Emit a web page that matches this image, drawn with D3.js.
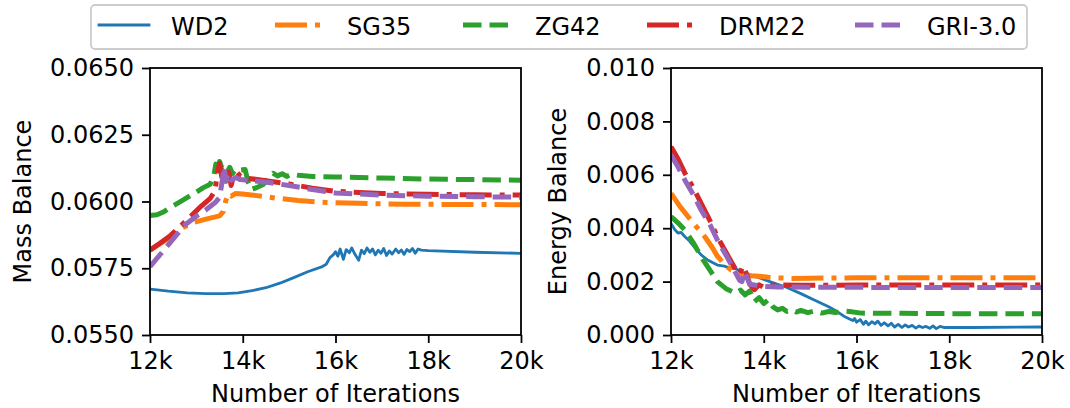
<!DOCTYPE html>
<html>
<head>
<meta charset="utf-8">
<script src="https://cdn.jsdelivr.net/npm/d3@7"></script>
<style>
  html, body { margin: 0; padding: 0; background: #fff; }
  svg { display: block; font-family: "DejaVu Sans", sans-serif; }
</style>
</head>
<body>
<svg id="chart" width="1070" height="408"></svg>
<script>
// ---------------- DATA ----------------
const seriesNames = ["WD2", "SG35", "ZG42", "DRM22", "GRI-3.0"];
const xTicks = [12000, 14000, 16000, 18000, 20000];
const massTicks = [0.0550, 0.0575, 0.0600, 0.0625, 0.0650];
const energyTicks = [0.000, 0.002, 0.004, 0.006, 0.008, 0.010];
const xLabel = "Number of Iterations";
const massLabel = "Mass Balance";
const energyLabel = "Energy Balance";

// Mass balance (left panel): [iteration, value]
const massWD2 = [[12000,0.05672],[12400,0.05664],[12800,0.05658],[13200,0.05655],[13600,0.05655],[13900,0.05658],[14200,0.05666],[14500,0.05677],[14800,0.05694],[15100,0.05715],[15400,0.05737],[15700,0.05755],[15800,0.05765],[15880,0.05790],[15950,0.05800],[16000,0.05812],[16050,0.05795],[16100,0.05822],[16170,0.05783],[16230,0.05820],[16300,0.05808],[16350,0.05826],[16420,0.05802],[16500,0.05780],[16560,0.05818],[16620,0.05805],[16680,0.05826],[16740,0.05810],[16800,0.05822],[16860,0.05800],[16920,0.05818],[16980,0.05806],[17040,0.05824],[17100,0.05798],[17160,0.05815],[17220,0.05803],[17300,0.05822],[17360,0.05808],[17420,0.05818],[17480,0.05802],[17540,0.05820],[17600,0.05812],[17660,0.05824],[17720,0.05806],[17780,0.05822],[17850,0.05818],[18000,0.05816],[19000,0.05810],[20000,0.05806]];
const massSG35 = [[12000,0.05818],[12200,0.05840],[12400,0.05862],[12650,0.05898],[12950,0.05922],[13250,0.05936],[13500,0.05946],[13580,0.05962],[13630,0.06000],[13680,0.06028],[13750,0.06020],[13850,0.06030],[14000,0.06028],[14300,0.06022],[14700,0.06013],[15200,0.06004],[15700,0.05997],[16500,0.05993],[17500,0.05990],[18500,0.05989],[20000,0.05988]];
const massZG42 = [[12000,0.05948],[12150,0.05950],[12300,0.05962],[12500,0.05984],[12700,0.06004],[12950,0.06030],[13150,0.06052],[13300,0.06065],[13380,0.06100],[13420,0.06140],[13460,0.06095],[13500,0.06150],[13550,0.06125],[13600,0.06138],[13660,0.06110],[13720,0.06128],[13780,0.06105],[13850,0.06122],[13950,0.06118],[14050,0.06120],[14120,0.06070],[14180,0.06045],[14300,0.06052],[14450,0.06065],[14550,0.06090],[14650,0.06106],[14750,0.06096],[14850,0.06104],[14950,0.06094],[15050,0.06102],[15200,0.06098],[15500,0.06094],[16000,0.06092],[17000,0.06088],[18000,0.06084],[19000,0.06082],[20000,0.06080]];
const massDRM22 = [[12000,0.05818],[12200,0.05842],[12450,0.05874],[12700,0.05915],[12900,0.05948],[13100,0.05982],[13300,0.06012],[13400,0.06040],[13450,0.06100],[13500,0.06143],[13550,0.06090],[13600,0.06130],[13650,0.06070],[13700,0.06110],[13750,0.06060],[13800,0.06095],[13860,0.06112],[13950,0.06095],[14100,0.06087],[14500,0.06078],[15000,0.06066],[15500,0.06050],[16000,0.06038],[17000,0.06030],[18000,0.06027],[19000,0.06025],[20000,0.06024]];
const massGRI = [[12000,0.05756],[12300,0.05818],[12550,0.05870],[12750,0.05912],[13000,0.05945],[13200,0.05968],[13400,0.05995],[13500,0.06015],[13560,0.06080],[13600,0.06130],[13640,0.06075],[13680,0.06105],[13750,0.06080],[13850,0.06090],[13950,0.06082],[14200,0.06078],[14600,0.06070],[15000,0.06060],[15500,0.06045],[16000,0.06032],[17000,0.06024],[18000,0.06020],[19000,0.06018],[20000,0.06016]];

// Energy balance (right panel): [iteration, value]
const energyWD2 = [[12000,0.00418],[12080,0.00395],[12150,0.00382],[12220,0.00384],[12300,0.00368],[12400,0.00352],[12500,0.00330],[12650,0.00300],[12800,0.00280],[13000,0.00262],[13150,0.00258],[13250,0.00252],[13400,0.00248],[13550,0.00232],[13750,0.00222],[13900,0.00215],[14100,0.00202],[14300,0.00190],[14500,0.00178],[14800,0.00155],[15100,0.00130],[15400,0.00106],[15600,0.00086],[15750,0.00068],[15850,0.00060],[15920,0.00054],[15960,0.00062],[16000,0.00048],[16080,0.00058],[16150,0.00040],[16200,0.00052],[16260,0.00038],[16330,0.00050],[16400,0.00042],[16460,0.00052],[16530,0.00036],[16600,0.00046],[16680,0.00034],[16750,0.00044],[16820,0.00030],[16900,0.00040],[16980,0.00028],[17050,0.00038],[17120,0.00030],[17200,0.00036],[17280,0.00026],[17350,0.00034],[17420,0.00028],[17500,0.00032],[17580,0.00025],[17650,0.00034],[17720,0.00024],[17800,0.00032],[17900,0.00028],[18500,0.00028],[20000,0.00030]];
const energySG35 = [[12000,0.00530],[12200,0.00480],[12370,0.00443],[12550,0.00405],[12730,0.00368],[12900,0.00325],[13000,0.00295],[13150,0.00265],[13300,0.00243],[13500,0.00230],[13730,0.00222],[13900,0.00220],[14100,0.00216],[14300,0.00214],[14600,0.00212],[15000,0.00213],[16000,0.00214],[18000,0.00214],[20000,0.00214]];
const energyZG42 = [[12000,0.00443],[12150,0.00420],[12300,0.00393],[12500,0.00340],[12650,0.00293],[12850,0.00240],[13000,0.00200],[13200,0.00172],[13400,0.00156],[13500,0.00168],[13600,0.00150],[13700,0.00165],[13800,0.00125],[13900,0.00140],[14000,0.00118],[14100,0.00132],[14200,0.00105],[14300,0.00094],[14400,0.00100],[14500,0.00088],[14600,0.00094],[14700,0.00086],[14800,0.00092],[14950,0.00084],[15100,0.00090],[15250,0.00082],[15400,0.00088],[15550,0.00084],[15700,0.00090],[15850,0.00088],[16100,0.00082],[17000,0.00081],[18000,0.00080],[20000,0.00080]];
const energyDRM22 = [[12000,0.00705],[12150,0.00660],[12300,0.00606],[12500,0.00545],[12650,0.00493],[12850,0.00425],[13000,0.00368],[13200,0.00305],[13400,0.00243],[13480,0.00228],[13550,0.00258],[13620,0.00232],[13700,0.00190],[13800,0.00170],[13900,0.00188],[14000,0.00178],[14100,0.00184],[14300,0.00188],[14800,0.00186],[16000,0.00187],[18000,0.00187],[20000,0.00187]];
const energyGRI = [[12000,0.00674],[12150,0.00630],[12300,0.00580],[12500,0.00520],[12650,0.00468],[12850,0.00410],[13000,0.00356],[13200,0.00295],[13400,0.00231],[13480,0.00205],[13530,0.00200],[13580,0.00238],[13620,0.00222],[13700,0.00190],[13800,0.00187],[14000,0.00182],[14300,0.00180],[15000,0.00179],[17000,0.00178],[20000,0.00178]];

// ---------------- STYLE ----------------
const colors = ["#1f77b4", "#ff7f0e", "#2ca02c", "#d62728", "#9467bd"];
const widths = [2.8, 5, 5, 5, 5];
const dashes = [null, "32,8,5,8", "18.5,8", "32,8,5,8", "18.5,8"];
const FONT = 24;

const svg = d3.select("#chart");

function panel(opts) {
  const {x0, x1, y0, y1, yDomain, yTicks, yFmt, label, labelX, data, id} = opts;
  const x = d3.scaleLinear().domain([12000, 20000]).range([x0, x1]);
  const y = d3.scaleLinear().domain(yDomain).range([y1, y0]);

  svg.append("clipPath").attr("id", id)
    .append("rect").attr("x", x0).attr("y", y0).attr("width", x1 - x0).attr("height", y1 - y0);

  const g = svg.append("g").attr("clip-path", `url(#${id})`);
  const line = d3.line().x(d => x(d[0])).y(d => y(d[1]));
  data.forEach((s, i) => {
    g.append("path")
      .attr("d", line(s))
      .attr("fill", "none")
      .attr("stroke", colors[i])
      .attr("stroke-width", widths[i])
      .attr("stroke-linejoin", "round")
      .attr("stroke-linecap", dashes[i] ? "butt" : "square")
      .attr("stroke-dasharray", dashes[i]);
  });

  // axes
  const xa = svg.append("g").attr("transform", `translate(0,${y1})`)
    .call(d3.axisBottom(x).tickValues(xTicks).tickFormat(d => (d / 1000) + "k")
      .tickSize(8).tickPadding(9).tickSizeOuter(0));
  const ya = svg.append("g").attr("transform", `translate(${x0},0)`)
    .call(d3.axisLeft(y).tickValues(yTicks).tickFormat(d3.format(yFmt))
      .tickSize(8).tickPadding(8).tickSizeOuter(0));
  [xa, ya].forEach(a => {
    a.select(".domain").remove();
    a.selectAll(".tick line").attr("stroke", "#000").attr("stroke-width", 1.8);
    a.selectAll(".tick text").attr("fill", "#000")
      .style("font-family", "DejaVu Sans").style("font-size", FONT + "px");
  });

  // frame
  svg.append("rect")
    .attr("x", x0).attr("y", y0).attr("width", x1 - x0).attr("height", y1 - y0)
    .attr("fill", "none").attr("stroke", "#000").attr("stroke-width", 1.8);

  // labels
  svg.append("text")
    .attr("x", (x0 + x1) / 2).attr("y", 402)
    .attr("text-anchor", "middle")
    .style("font-size", FONT + "px").attr("fill", "#000")
    .text(xLabel);
  svg.append("text")
    .attr("transform", `translate(${labelX},${(y0 + y1) / 2}) rotate(-90)`)
    .attr("text-anchor", "middle")
    .attr("dominant-baseline", "central")
    .style("font-size", FONT + "px").attr("fill", "#000")
    .text(label);
}

panel({
  id: "clipL", x0: 150, x1: 521, y0: 68, y1: 335,
  yDomain: [0.055, 0.065], yTicks: massTicks, yFmt: ".4f",
  label: massLabel, labelX: 23,
  data: [massWD2, massSG35, massZG42, massDRM22, massGRI]
});
panel({
  id: "clipR", x0: 671, x1: 1042, y0: 68, y1: 335,
  yDomain: [0, 0.010], yTicks: energyTicks, yFmt: ".3f",
  label: energyLabel, labelX: 558,
  data: [energyWD2, energySG35, energyZG42, energyDRM22, energyGRI]
});

// legend
const leg = svg.append("g");
leg.append("rect")
  .attr("x", 91).attr("y", 5).attr("width", 936).attr("height", 44)
  .attr("rx", 4).attr("ry", 4)
  .attr("fill", "#fff").attr("fill-opacity", 0.8)
  .attr("stroke", "#cccccc").attr("stroke-width", 1.8);
const legendX = [99, 275, 463, 647, 855];
seriesNames.forEach((name, i) => {
  const lx = legendX[i];
  leg.append("line")
    .attr("x1", lx).attr("x2", lx + 50).attr("y1", 25).attr("y2", 25)
    .attr("stroke", colors[i]).attr("stroke-width", widths[i])
    .attr("stroke-dasharray", dashes[i])
    .attr("stroke-linecap", dashes[i] ? "butt" : "square");
  leg.append("text")
    .attr("x", lx + 72).attr("y", 35)
    .style("font-size", FONT + "px").attr("fill", "#000")
    .text(name);
});
</script>
</body>
</html>
